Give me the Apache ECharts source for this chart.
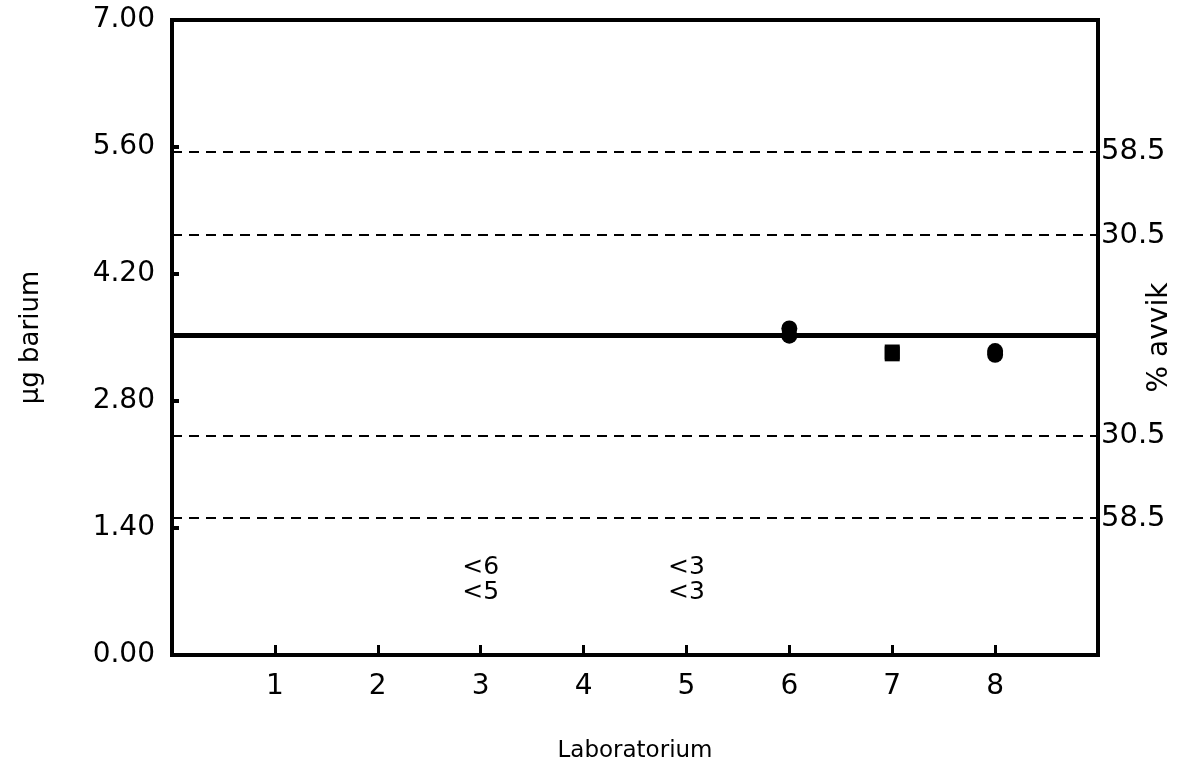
<!DOCTYPE html>
<html>
<head>
<meta charset="utf-8">
<script src="https://cdn.jsdelivr.net/npm/echarts@6/dist/echarts.min.js"></script>
<style>html,body{margin:0;padding:0;background:#fff}#c{width:1177px;height:778px}</style>
</head>
<body>
<div id="c"></div>
<script>
// Categories (laboratories)
var labs = [1, 2, 3, 4, 5, 6, 7, 8];
// Y tick values
var yTicks = [0, 1.4, 2.8, 4.2, 5.6, 7.0];
// Measured results: circles
var circleLabs = [6, 6, 8, 8];
var circleValues = [3.60, 3.52, 3.35, 3.31];
// Measured results: squares
var squareLabs = [7, 7];
var squareValues = [3.34, 3.32];
// Mean (reference) value
var meanValue = 3.52;
// Deviation limit lines and their labels (% avvik)
var limitValues = [5.55, 4.63, 2.42, 1.51];
var limitLabels = ['58.5', '30.5', '30.5', '58.5'];
// "Less than" results
var ltLabs = [3, 3, 5, 5];
var ltValues = [0.96, 0.69, 0.96, 0.69];
var ltTexts = ['<6', '<5', '<3', '<3'];

var FONT = 'DejaVu Sans';
var chart = echarts.init(document.getElementById('c'), null, {renderer: 'canvas'});

var limitMarks = limitValues.map(function (v, i) {
  return {yAxis: v, label: {formatter: limitLabels[i]}};
});

var option = {
  backgroundColor: '#fff',
  animation: false,
  grid: {left: 172, right: 79, top: 20, bottom: 123, outerBoundsMode: 'none', containLabel: false,
    show: true, borderColor: '#000', borderWidth: 4, backgroundColor: 'transparent'},
  xAxis: {
    type: 'value', min: 0, max: 9, interval: 1,
    name: 'Laboratorium', nameLocation: 'middle', nameGap: 85,
    nameTextStyle: {fontFamily: FONT, fontSize: 23, color: '#000'},
    axisLine: {show: true, lineStyle: {color: '#000', width: 4}},
    axisTick: {show: true, inside: true, length: 10, lineStyle: {color: '#000', width: 3}, customValues: labs},
    axisLabel: {show: true, margin: 18, fontFamily: FONT, fontSize: 28, color: '#000', customValues: labs},
    splitLine: {show: false}
  },
  yAxis: [{
    type: 'value', min: 0, max: 7, interval: 1.4,
    name: 'µg barium', nameLocation: 'middle', nameGap: 128, nameRotate: 90,
    nameTextStyle: {fontFamily: FONT, fontSize: 26, color: '#000'},
    axisLine: {show: true, lineStyle: {color: '#000', width: 4}},
    axisTick: {show: true, inside: true, length: 7, lineStyle: {color: '#000', width: 4}, customValues: yTicks},
    axisLabel: {show: true, margin: 17, fontFamily: FONT, fontSize: 28, color: '#000',
      customValues: yTicks, formatter: function (v) { return v.toFixed(2); }},
    splitLine: {show: false}
  }, {
    type: 'value', min: 0, max: 7, position: 'right',
    name: '% avvik', nameLocation: 'middle', nameGap: 48, nameRotate: 90,
    nameTextStyle: {fontFamily: FONT, fontSize: 28, color: '#000'},
    axisLine: {show: true, lineStyle: {color: '#000', width: 4}},
    axisTick: {show: false}, axisLabel: {show: false}, splitLine: {show: false}
  }],
  series: [
    {
      type: 'line', data: [], silent: true,
      markLine: {
        silent: true, symbol: 'none',
        lineStyle: {color: '#000', type: [10, 7], width: 2, opacity: 1},
        label: {show: true, position: 'end', distance: 3, fontFamily: FONT, fontSize: 29, color: '#000'},
        emphasis: {disabled: true},
        data: limitMarks
      }
    },
    {
      type: 'line', data: [], silent: true,
      markLine: {
        silent: true, symbol: 'none',
        lineStyle: {color: '#000', type: 'solid', width: 5, opacity: 1},
        label: {show: false},
        emphasis: {disabled: true},
        data: [{yAxis: meanValue}]
      }
    },
    {
      type: 'scatter', symbol: 'circle', symbolSize: 16,
      itemStyle: {color: '#000', opacity: 1},
      data: circleLabs.map(function (l, i) { return [l, circleValues[i]]; }),
      z: 5
    },
    {
      type: 'scatter', symbol: 'rect', symbolSize: 15,
      itemStyle: {color: '#000', opacity: 1},
      data: squareLabs.map(function (l, i) { return [l, squareValues[i]]; }),
      z: 5
    },
    {
      type: 'scatter', symbolSize: 1, itemStyle: {color: 'rgba(255,255,255,0)'},
      data: ltLabs.map(function (l, i) { return [l, ltValues[i], ltTexts[i]]; }),
      label: {show: true, position: 'inside', fontFamily: FONT, fontSize: 25, color: '#000',
        opacity: 1, textBorderWidth: 0,
        formatter: function (p) { return p.data[2]; }},
      emphasis: {disabled: true}
    }
  ]
};
chart.setOption(option);
</script>
</body>
</html>
